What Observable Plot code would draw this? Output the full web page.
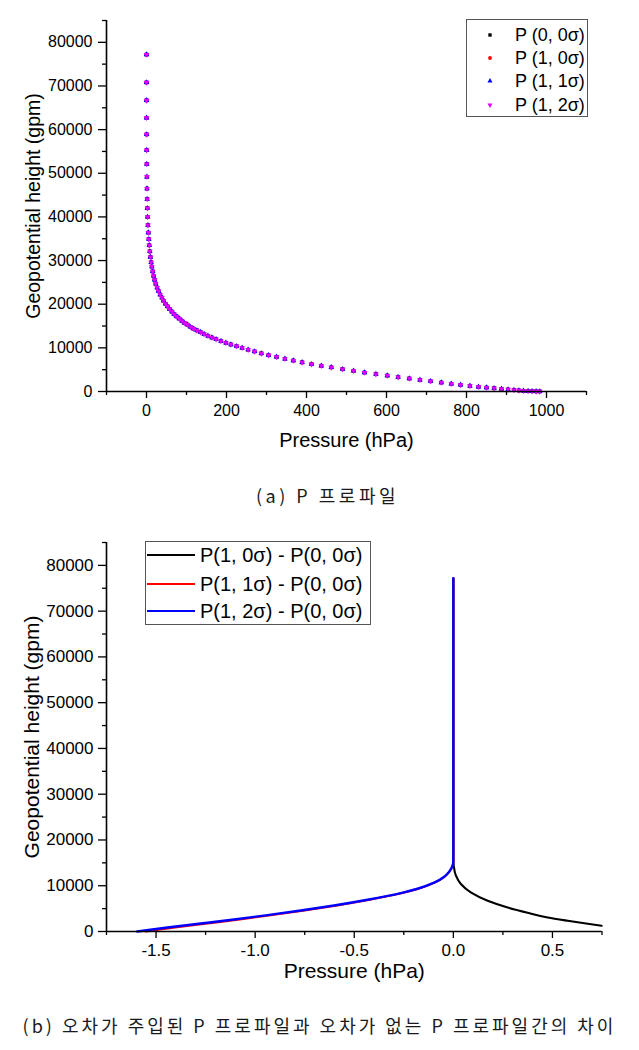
<!DOCTYPE html>
<html><head><meta charset="utf-8">
<script src="https://cdn.jsdelivr.net/npm/d3@7"></script>
<script src="https://cdn.jsdelivr.net/npm/@observablehq/plot@0.6"></script>
<style>
body{margin:0;background:#fff;}
#wrap{position:relative;width:639px;height:1050px;overflow:hidden;font-family:"Liberation Sans",Arial,sans-serif;background:#fff;}
.abs{position:absolute;}
.cap{position:absolute;left:0;width:639px;text-align:center;font-family:"Noto Sans CJK KR",sans-serif;font-weight:400;color:#1a1a1a;white-space:pre;line-height:26px;}
.leg{position:absolute;border:1px solid #555;background:#fff;box-sizing:border-box;}
.lt{position:absolute;white-space:pre;color:#000;}
</style></head><body>
<div id="wrap">
  <div id="chartA" class="abs" style="left:0;top:0"></div>
  <div id="chartB" class="abs" style="left:0;top:530px"></div>
  <div class="cap" style="top:482px;left:8px;font-size:18px;letter-spacing:3.5px">(a) P 프로파일</div>
  <div class="cap" style="top:1012px;font-size:18px;letter-spacing:3px">(b) 오차가 주입된 P 프로파일과 오차가 없는 P 프로파일간의 차이</div>
</div>
<script>
// ---------- (a) P profile data ----------
const seriesA = ["P (0, 0σ)", "P (1, 0σ)", "P (1, 1σ)", "P (1, 2σ)"];
const colorsA = ["#000000", "#ff0000", "#0000ff", "#e000ff"];
const pressureA = [0.02,0.05,0.1,0.2,0.3,0.45,0.65,0.9,1.2,1.6,2.1,2.8,3.6,4.6,5.7,6.9,8.3,9.8,11.5,13.3,15.5,17.8,20.2,23,26.5,30,34,38.5,42.5,47.5,52.5,57.5,63.5,69,75,82,88.5,95,102.5,110,117.5,126,135,144,153.5,163.5,174,186,198.5,211,225,239,254,270,287,305,325,346,367,389,412.5,437,462,490,517.5,545,573.5,602,629,657,683.5,710,737,762,785,808.5,830,850,869,887.5,904,918.5,931,942.5,954,964,974,983];
const heightsA = [77200,70800,66700,62700,58900,55300,52100,49200,46500,44100,42000,40000,38100,36400,34900,33500,32100,30800,29600,28600,27500,26500,25600,24700,23800,23000,22200,21500,20800,20100,19500,18900,18300,17700,17200,16700,16200,15700,15300,14800,14400,14000,13600,13150,12750,12370,11990,11550,11160,10770,10380,10000,9570,9170,8730,8320,7930,7500,7100,6670,6260,5890,5530,5120,4740,4350,3980,3650,3290,2980,2670,2360,2060,1770,1520,1290,1070,910,750,600,460,340,240,160,100,60,30,10];
const xDomainA = [-100, 1100];
const yDomainA = [0, 85000];
const xMajorA = [0, 200, 400, 600, 800, 1000];
const xMinorA = [-100, 100, 300, 500, 700, 900, 1100];
const yMajorA = [0, 10000, 20000, 30000, 40000, 50000, 60000, 70000, 80000];
const yMinorA = [5000, 15000, 25000, 35000, 45000, 55000, 65000, 75000, 85000];

// ---------- (b) difference data ----------
const seriesB = ["P(1, 0σ) - P(0, 0σ)", "P(1, 1σ) - P(0, 0σ)", "P(1, 2σ) - P(0, 0σ)"];
const colorsB = ["#000000", "#ff0000", "#0000ff"];
const widthsB = [2.1, 2.0, 2.4];
const blackH = [77200, 40000, 20000, 15470, 14380, 12190, 10370, 8540, 6720, 5250, 4090, 3060, 2340, 1680, 1250];
const blackV = [0, 0, 0, 0, 0.002, 0.013, 0.038, 0.088, 0.173, 0.274, 0.375, 0.476, 0.577, 0.678, 0.748];
const redH = [77200, 40000, 20000, 15470, 14380, 13060, 11970, 10660, 9340, 8400, 6940, 5690, 4600, 3580, 2630, 1750, 880, 0];
const redV = [0, 0, 0, 0, -0.004, -0.020, -0.044, -0.094, -0.176, -0.258, -0.422, -0.587, -0.750, -0.913, -1.077, -1.240, -1.404, -1.552];
const blueH = [77200, 40000, 20000, 15470, 14380, 13060, 11970, 10660, 9340, 8400, 6940, 5690, 4600, 3580, 2630, 1750, 880, 0];
const blueV = [0, 0, 0, 0, -0.004, -0.021, -0.046, -0.097, -0.181, -0.265, -0.433, -0.602, -0.770, -0.938, -1.107, -1.275, -1.443, -1.595];
const xDomainB = [-1.75, 0.75];
const yDomainB = [0, 85000];
const xMajorB = [-1.5, -1.0, -0.5, 0.0, 0.5];
const xMinorB = [-1.75, -1.25, -0.75, -0.25, 0.25, 0.75];
const yMajorB = yMajorA;
const yMinorB = yMinorA;

const xTitle = "Pressure (hPa)";
const yTitle = "Geopotential height (gpm)";

// down-pointing triangle symbol
const triangleDown = {
  draw(context, size) {
    const y = -Math.sqrt(size / (3 * Math.sqrt(3)));
    context.moveTo(0, -y * 2);
    context.lineTo(-Math.sqrt(3) * y, y);
    context.lineTo(Math.sqrt(3) * y, y);
    context.closePath();
  }
};
const symbolsA = [d3.symbolSquare, d3.symbolCircle, d3.symbolTriangle, triangleDown];

const FONT = "Liberation Sans, Arial, sans-serif";
const fmtInt = d => String(d);

// ---------- chart (a) ----------
const rowsA = seriesA.map((s, i) => pressureA.map((p, j) => ({series: s, p, h: heightsA[j]})));
const chartA = Plot.plot({
  width: 639, height: 461,
  marginLeft: 106, marginRight: 53, marginTop: 20, marginBottom: 70,
  style: {fontFamily: FONT, background: "white", overflow: "visible", color: "black"},
  x: {domain: xDomainA, label: null},
  y: {domain: yDomainA, label: null},
  marks: [
    ...rowsA.map((rows, i) => Plot.dot(rows, {x: "p", y: "h", symbol: symbolsA[i], r: 2.1, fill: colorsA[i], stroke: "none"})),
    Plot.ruleX([xDomainA[0]], {stroke: "black", strokeWidth: 1.6}),
    Plot.ruleY([yDomainA[0]], {stroke: "black", strokeWidth: 1.6}),
    Plot.axisX(xMajorA, {tickSize: 7, tickPadding: 6, fontSize: 16, tickFormat: fmtInt, label: null, strokeWidth: 1.3}),
    Plot.axisX(xMinorA, {tickSize: 4, tickFormat: () => "", label: null, strokeWidth: 1.3}),
    Plot.axisY(yMajorA, {tickSize: 8, tickPadding: 6, fontSize: 16, tickFormat: fmtInt, label: null, strokeWidth: 1.3}),
    Plot.axisY(yMinorA, {tickSize: 4, tickFormat: () => "", label: null, strokeWidth: 1.3}),
    Plot.text([xTitle], {text: d => d, frameAnchor: "bottom", lineAnchor: "middle", textAnchor: "middle", dy: 49, fontSize: 20}),
    Plot.text([yTitle], {text: d => d, frameAnchor: "left", lineAnchor: "middle", textAnchor: "middle", dx: -73, rotate: -90, fontSize: 19.5})
  ]
});
document.getElementById("chartA").appendChild(chartA);

// ---------- chart (b) ----------
const toRows = (H, V) => d3.sort(H.map((h, i) => ({h, v: V[i]})), d => d.h);
const rowsB = [toRows(blackH, blackV), toRows(redH, redV), toRows(blueH, blueV)];
const chartB = Plot.plot({
  width: 639, height: 461,
  marginLeft: 106, marginRight: 37.5, marginTop: 12, marginBottom: 60,
  style: {fontFamily: FONT, background: "white", overflow: "visible", color: "black"},
  x: {domain: xDomainB, label: null},
  y: {domain: yDomainB, label: null},
  marks: [
    ...rowsB.map((rows, i) => Plot.line(rows, {x: "v", y: "h", stroke: colorsB[i], strokeWidth: widthsB[i], curve: "monotone-y"})),
    Plot.ruleX([xDomainB[0]], {stroke: "black", strokeWidth: 1.6}),
    Plot.ruleY([yDomainB[0]], {stroke: "black", strokeWidth: 1.6}),
    Plot.axisX(xMajorB, {tickSize: 7, tickPadding: 5, fontSize: 17, tickFormat: d => d.toFixed(1), label: null, strokeWidth: 1.3}),
    Plot.axisX(xMinorB, {tickSize: 4, tickFormat: () => "", label: null, strokeWidth: 1.3}),
    Plot.axisY(yMajorB, {tickSize: 8, tickPadding: 5, fontSize: 17, tickFormat: fmtInt, label: null, strokeWidth: 1.3}),
    Plot.axisY(yMinorB, {tickSize: 4, tickFormat: () => "", label: null, strokeWidth: 1.3}),
    Plot.text([xTitle], {text: d => d, frameAnchor: "bottom", lineAnchor: "middle", textAnchor: "middle", dy: 40, fontSize: 21}),
    Plot.text([yTitle], {text: d => d, frameAnchor: "left", lineAnchor: "middle", textAnchor: "middle", dx: -74, rotate: -90, fontSize: 21})
  ]
});
document.getElementById("chartB").appendChild(chartB);

// ---------- legends ----------
const wrap = document.getElementById("wrap");
// legend (a)
const legA = document.createElement("div");
legA.className = "leg";
Object.assign(legA.style, {left: "466px", top: "19px", width: "122px", height: "98px"});
const rowYA = [15, 38, 61, 85];
seriesA.forEach((s, i) => {
  const svgNS = "http://www.w3.org/2000/svg";
  const svg = document.createElementNS(svgNS, "svg");
  svg.setAttribute("width", 10); svg.setAttribute("height", 10);
  svg.style.position = "absolute";
  svg.style.left = (23 - 5) + "px";
  svg.style.top = (rowYA[i] - 5) + "px";
  const path = document.createElementNS(svgNS, "path");
  path.setAttribute("d", d3.symbol(symbolsA[i], Math.PI * 1.9 * 1.9)());
  path.setAttribute("transform", "translate(5,5)");
  path.setAttribute("fill", colorsA[i]);
  svg.appendChild(path);
  legA.appendChild(svg);
  const t = document.createElement("div");
  t.className = "lt";
  t.textContent = s;
  Object.assign(t.style, {left: "48px", top: (rowYA[i] - 11) + "px", fontSize: "18px", lineHeight: "22px"});
  legA.appendChild(t);
});
wrap.appendChild(legA);

// legend (b)
const legB = document.createElement("div");
legB.className = "leg";
Object.assign(legB.style, {left: "145px", top: "541px", width: "226px", height: "84px"});
const rowYB = [13, 41.5, 69];
seriesB.forEach((s, i) => {
  const ln = document.createElement("div");
  Object.assign(ln.style, {position: "absolute", left: "1px", width: "48px", top: (rowYB[i] - 1) + "px", height: "2px", background: colorsB[i]});
  legB.appendChild(ln);
  const t = document.createElement("div");
  t.className = "lt";
  t.textContent = s;
  Object.assign(t.style, {left: "54px", top: (rowYB[i] - 12) + "px", fontSize: "20px", lineHeight: "24px"});
  legB.appendChild(t);
});
wrap.appendChild(legB);
</script>
</body></html>
